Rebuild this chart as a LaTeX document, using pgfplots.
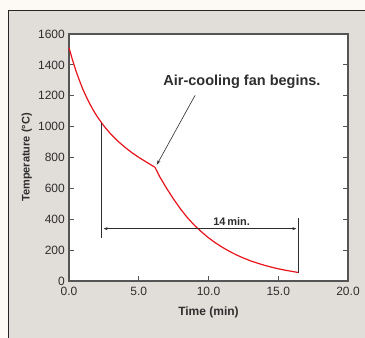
\documentclass[border=0pt]{standalone}
\usepackage{pgfplots}
\pgfplotsset{compat=1.18}
\usepackage{fontspec}
\setmainfont{Liberation Sans}
\usetikzlibrary{arrows.meta}
\definecolor{cream}{HTML}{FDF9F5}
\definecolor{panel}{HTML}{E1DDD9}
\definecolor{curvered}{HTML}{E8141C}
\definecolor{axisgray}{HTML}{555555}
\definecolor{txt}{HTML}{2E2E2E}
\begin{document}
\begin{tikzpicture}[x=1pt,y=1pt]
\useasboundingbox (0,0) rectangle (365,338);
\fill[cream] (0,0) rectangle (365,338);
\filldraw[fill=panel, draw=black!85, line width=0.9pt] (8.5,-5) rectangle (372,327.5);
\begin{axis}[
  at={(69pt,57pt)}, anchor=south west,
  scale only axis, width=279pt, height=247pt,
  xmin=0, xmax=20, ymin=0, ymax=1600,
  xtick={0,5,10,15,20},
  ytick={0,200,...,1600},
  xticklabels={0.0,5.0,10.0,15.0,20.0},
  /pgf/number format/assume math mode=true,
  /pgf/number format/1000 sep={},
  tick align=inside,
  xtick pos=lower, ytick pos=both, yticklabel pos=left,
  major tick length=5pt,
  axis line style={axisgray, line width=1.2pt},
  tick style={axisgray, line width=1pt},
  axis background/.style={fill=white},
  ticklabel style={font=\fontsize{12}{12}\selectfont, text=txt},
  xticklabel style={inner sep=1pt, yshift=-5pt},
  yticklabel style={inner sep=1pt, xshift=-3pt},
  xlabel={\bfseries Time (min)},
  ylabel={\bfseries Temperature (°C)},
  xlabel style={font=\fontsize{12}{13}\selectfont, text=txt, at={(axis description cs:0.5,-0.127)}, anchor=center},
  ylabel style={font=\fontsize{11}{12}\selectfont, text=txt, at={(axis description cs:-0.151,0.5)}, anchor=center},
  clip=false,
]
\addplot[curvered, line width=1.2pt] coordinates {
(0,1512) (0.25,1432) (0.5,1361) (0.75,1298) (1.0,1241) (1.25,1191) (1.5,1146) (1.75,1105) (2.0,1068) (2.5,1004) (3.0,951) (3.5,906) (4.0,867) (4.5,832) (5.0,801) (5.5,773) (6.16,737)};
\addplot[curvered, line width=1.2pt] coordinates {
(6.16,737) (6.5,676) (7.0,600) (7.5,530) (8.0,466) (8.5,409) (9.0,360) (9.5,318) (10.0,280) (10.5,247) (11.0,218) (11.5,192) (12.0,169) (12.5,149) (13.0,131) (13.5,116) (14.0,102) (14.5,90) (15.0,79) (15.5,70) (16.0,62) (16.44,55)};
\draw[txt, line width=0.8pt] (axis cs:2.34,1025) -- (axis cs:2.34,280);
\draw[txt, line width=0.8pt] (axis cs:16.44,55) -- (axis cs:16.44,405);
\draw[txt, line width=0.7pt, {Stealth[length=4pt,width=3pt]}-{Stealth[length=4pt,width=3pt]}] (axis cs:2.48,339) -- (axis cs:16.3,339);
\node[font=\bfseries\fontsize{11}{12}\selectfont, text=txt] at (axis cs:11.66,388) {14\,min.};
\draw[txt, line width=0.6pt, -{Stealth[length=5pt,width=3pt]}] (axis cs:9.04,1203) -- (axis cs:6.29,752);
\node[font=\bfseries\fontsize{14.5}{15}\selectfont, text=txt] at (axis cs:12.4,1290) {Air-cooling fan begins.};
\end{axis}
\end{tikzpicture}
\end{document}
